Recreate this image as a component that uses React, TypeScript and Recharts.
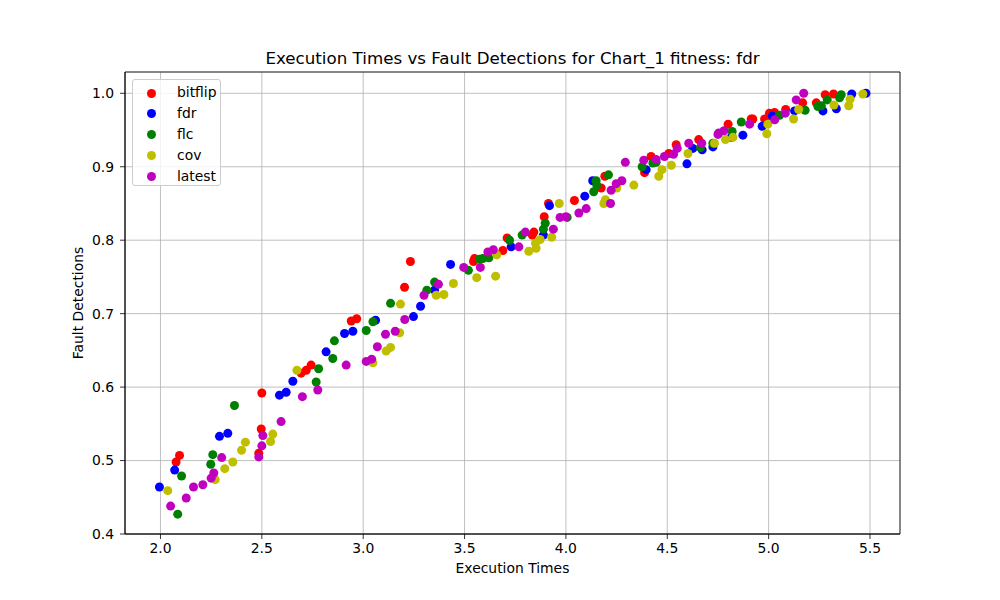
import { ScatterChart, Scatter, XAxis, YAxis, CartesianGrid, ReferenceArea } from 'recharts';

// [execution time, fault detection] pairs
const bitflip: [number, number][] = [
  [2.077, 0.498], [2.094, 0.507], [2.485, 0.51], [2.497, 0.543], [2.5, 0.592], [2.694, 0.619],
  [2.719, 0.623], [2.743, 0.63], [2.941, 0.69], [2.968, 0.693], [3.204, 0.736], [3.233, 0.771],
  [3.544, 0.771], [3.549, 0.775], [3.689, 0.786], [3.71, 0.803], [3.834, 0.807], [3.842, 0.811],
  [3.893, 0.832], [3.914, 0.85], [4.042, 0.854], [4.174, 0.871], [4.192, 0.887], [4.388, 0.892],
  [4.42, 0.914], [4.508, 0.918], [4.544, 0.93], [4.655, 0.937], [4.8, 0.958], [4.914, 0.965],
  [4.922, 0.965], [4.98, 0.965], [5.004, 0.973], [5.029, 0.974], [5.084, 0.978], [5.168, 0.987],
  [5.235, 0.987], [5.279, 0.998], [5.32, 0.999],
];

const fdr: [number, number][] = [
  [1.995, 0.464], [2.07, 0.487], [2.291, 0.533], [2.332, 0.537], [2.587, 0.589], [2.62, 0.593],
  [2.653, 0.608], [2.817, 0.648], [2.908, 0.673], [2.949, 0.676], [3.061, 0.691], [3.248, 0.696],
  [3.283, 0.71], [3.352, 0.732], [3.431, 0.767], [3.73, 0.791], [3.889, 0.807], [3.919, 0.847],
  [4.093, 0.86], [4.132, 0.881], [4.396, 0.896], [4.597, 0.904], [4.626, 0.925], [4.672, 0.923],
  [4.725, 0.927], [4.815, 0.94], [4.873, 0.943], [4.968, 0.955], [5.018, 0.969], [5.128, 0.976],
  [5.268, 0.976], [5.334, 0.979], [5.41, 0.999], [5.48, 1.0],
];

const flc: [number, number][] = [
  [2.085, 0.427], [2.104, 0.479], [2.248, 0.495], [2.258, 0.508], [2.365, 0.575], [2.768, 0.607],
  [2.78, 0.625], [2.85, 0.639], [2.858, 0.663], [3.015, 0.677], [3.048, 0.689], [3.135, 0.714],
  [3.314, 0.732], [3.352, 0.743], [3.519, 0.759], [3.574, 0.774], [3.59, 0.775], [3.62, 0.776],
  [3.722, 0.8], [3.784, 0.807], [3.889, 0.815], [3.898, 0.823], [4.006, 0.831], [4.137, 0.866],
  [4.149, 0.881], [4.152, 0.875], [4.21, 0.889], [4.376, 0.9], [4.429, 0.905], [4.445, 0.906],
  [4.664, 0.926], [4.725, 0.932], [4.82, 0.948], [4.865, 0.961], [5.054, 0.97], [5.18, 0.977],
  [5.243, 0.982], [5.26, 0.983], [5.289, 0.991], [5.35, 0.994], [5.358, 0.998],
];

const cov: [number, number][] = [
  [2.036, 0.459], [2.27, 0.474], [2.317, 0.489], [2.357, 0.498], [2.4, 0.514], [2.419, 0.525],
  [2.543, 0.526], [2.554, 0.536], [2.673, 0.623], [3.048, 0.633], [3.113, 0.649], [3.135, 0.654],
  [3.18, 0.674], [3.184, 0.713], [3.36, 0.725], [3.398, 0.726], [3.445, 0.741], [3.56, 0.749],
  [3.653, 0.751], [3.659, 0.78], [3.817, 0.785], [3.853, 0.789], [3.85, 0.796], [3.873, 0.801],
  [3.93, 0.804], [3.967, 0.85], [4.187, 0.85], [4.195, 0.855], [4.251, 0.871], [4.335, 0.875],
  [4.458, 0.887], [4.474, 0.896], [4.52, 0.902], [4.602, 0.918], [4.733, 0.932], [4.787, 0.937],
  [4.824, 0.94], [4.991, 0.945], [4.996, 0.958], [5.123, 0.965], [5.148, 0.978], [5.322, 0.984],
  [5.395, 0.983], [5.402, 0.992], [5.465, 0.999],
];

const latest: [number, number][] = [
  [2.05, 0.438], [2.127, 0.449], [2.163, 0.464], [2.209, 0.467], [2.25, 0.476], [2.263, 0.483],
  [2.302, 0.504], [2.485, 0.505], [2.5, 0.52], [2.505, 0.534], [2.595, 0.553], [2.7, 0.587],
  [2.776, 0.596], [2.916, 0.63], [3.015, 0.635], [3.042, 0.638], [3.07, 0.655], [3.11, 0.672],
  [3.158, 0.676], [3.205, 0.692], [3.3, 0.725], [3.371, 0.74], [3.496, 0.763], [3.578, 0.763],
  [3.615, 0.784], [3.642, 0.787], [3.768, 0.791], [3.8, 0.811], [3.938, 0.815], [3.971, 0.831],
  [4.0, 0.832], [4.064, 0.837], [4.1, 0.843], [4.22, 0.85], [4.223, 0.868], [4.248, 0.877],
  [4.276, 0.881], [4.293, 0.906], [4.384, 0.909], [4.445, 0.91], [4.486, 0.914], [4.531, 0.917],
  [4.549, 0.925], [4.606, 0.932], [4.67, 0.932], [4.75, 0.944], [4.754, 0.946], [4.78, 0.949],
  [4.906, 0.958], [5.03, 0.964], [5.082, 0.973], [5.136, 0.991], [5.173, 1.0],
];

const xTicks = [2.0, 2.5, 3.0, 3.5, 4.0, 4.5, 5.0, 5.5];
const yTicks = [0.4, 0.5, 0.6, 0.7, 0.8, 0.9, 1.0];

const series = [
  { name: 'bitflip', color: '#ff0000', points: bitflip },
  { name: 'fdr', color: '#0000ff', points: fdr },
  { name: 'flc', color: '#008000', points: flc },
  { name: 'cov', color: '#bfbf00', points: cov },
  { name: 'latest', color: '#bf00bf', points: latest },
];

const X_DOMAIN: [number, number] = [1.825, 5.648];
const Y_DOMAIN: [number, number] = [0.4, 1.029];
const FONT = '"DejaVu Sans", sans-serif';

const tickStyle = { fontSize: 13.9, fill: '#000', fontFamily: FONT };

function Dot(color: string) {
  return (props: any) => <circle cx={props.cx} cy={props.cy} r={4.5} fill={color} />;
}

export default function App() {
  return (
    <div style={{ position: 'fixed', left: 0, top: 0, width: 1000, height: 600, background: '#fff', fontFamily: FONT }}>
      <ScatterChart width={1000} height={600} margin={{ top: 72, right: 100, bottom: 36, left: 65 }}>
        <CartesianGrid stroke="#b0b0b0" strokeWidth={0.8} />
        <XAxis
          type="number"
          dataKey="x"
          domain={X_DOMAIN}
          ticks={xTicks}
          tickFormatter={(v: number) => v.toFixed(1)}
          allowDataOverflow
          height={30}
          tickSize={5}
          tickMargin={4}
          tick={tickStyle}
          stroke="#000"
          axisLine={{ stroke: '#000', strokeWidth: 0.8 }}
          tickLine={{ stroke: '#000', strokeWidth: 0.8 }}
        />
        <YAxis
          type="number"
          dataKey="y"
          domain={Y_DOMAIN}
          ticks={yTicks}
          tickFormatter={(v: number) => v.toFixed(1)}
          allowDataOverflow
          width={60}
          tickSize={5}
          tickMargin={6}
          tick={tickStyle}
          stroke="#000"
          axisLine={{ stroke: '#000', strokeWidth: 0.8 }}
          tickLine={{ stroke: '#000', strokeWidth: 0.8 }}
        />
        {series.map((s) => (
          <Scatter
            key={s.name}
            name={s.name}
            data={s.points.map(([x, y]) => ({ x, y }))}
            fill={s.color}
            shape={Dot(s.color)}
            isAnimationActive={false}
          />
        ))}
        <ReferenceArea
          x1={X_DOMAIN[0]}
          x2={X_DOMAIN[1]}
          y1={Y_DOMAIN[0]}
          y2={Y_DOMAIN[1]}
          fill="none"
          fillOpacity={0}
          stroke="#000"
          strokeWidth={0.8}
          ifOverflow="visible"
        />
      </ScatterChart>

      <div style={{ position: 'absolute', left: 512.5, top: 50, transform: 'translateX(-50%)', fontSize: 16.7, lineHeight: 1, whiteSpace: 'nowrap', color: '#000' }}>
        Execution Times vs Fault Detections for Chart_1 fitness: fdr
      </div>
      <div style={{ position: 'absolute', left: 512.5, top: 562, transform: 'translateX(-50%)', fontSize: 13.9, lineHeight: 1, whiteSpace: 'nowrap', color: '#000' }}>
        Execution Times
      </div>
      <div style={{ position: 'absolute', left: 79, top: 303, transform: 'translate(-50%, -50%) rotate(-90deg)', fontSize: 13.9, lineHeight: 1, whiteSpace: 'nowrap', color: '#000' }}>
        Fault Detections
      </div>

      <div style={{ position: 'absolute', left: 132, top: 79, width: 89, height: 107, border: '1px solid #cccccc', borderRadius: 3, background: 'rgba(255,255,255,0.8)', boxSizing: 'border-box' }}>
        {series.map((s, i) => (
          <div key={s.name} style={{ position: 'absolute', left: 0, top: 5 + i * 20.9, height: 16, display: 'flex', alignItems: 'center' }}>
            <span style={{ position: 'absolute', left: 14, width: 9, height: 9, borderRadius: '50%', background: s.color }} />
            <span style={{ position: 'absolute', left: 44, fontSize: 13.9, lineHeight: 1, whiteSpace: 'nowrap', color: '#000' }}>{s.name}</span>
          </div>
        ))}
      </div>
    </div>
  );
}
